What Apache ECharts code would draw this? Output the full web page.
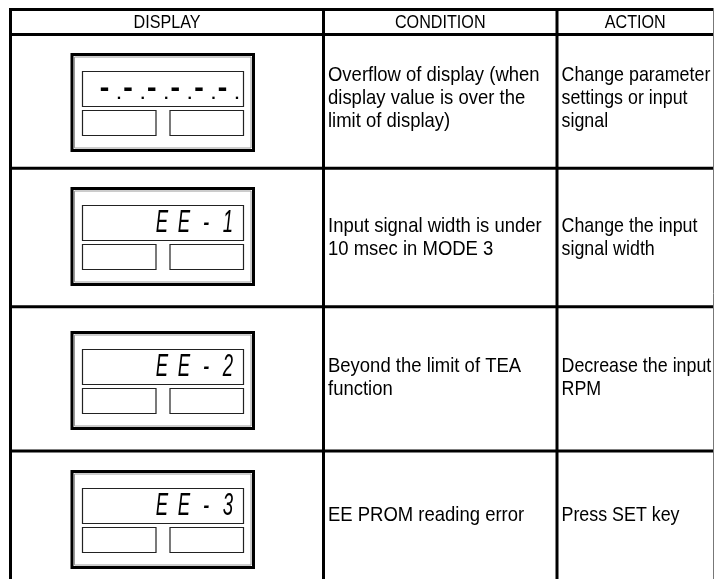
<!DOCTYPE html>
<html>
<head>
<meta charset="utf-8">
<script src="https://cdn.jsdelivr.net/npm/echarts@6/dist/echarts.min.js"></script>
<style>
  html, body { margin: 0; padding: 0; background: #ffffff; }
  #chart { width: 715px; height: 579px; }
</style>
</head>
<body>
<div id="chart"></div>
<script>
// ---- data ----
const headers = ['DISPLAY', 'CONDITION', 'ACTION'];
const displayCodes = ['-.-.-.-.-.-.', 'EE-1', 'EE-2', 'EE-3'];
const conditions = [
  'Overflow of display (when\ndisplay value is over the\nlimit of display)',
  'Input signal width is under\n10 msec in MODE 3',
  'Beyond the limit of TEA\nfunction',
  'EE PROM reading error'
];
const actions = [
  'Change parameter\nsettings or input\nsignal',
  'Change the input\nsignal width',
  'Decrease the input\nRPM',
  'Press SET key'
];

// ---- layout (pixels) ----
const L = {
  top: 9.5, headerBottom: 34.5, rowLines: [168.3, 306.7, 451], bottom: 579,
  left: 10.5, colLines: [323.5, 557], right: 713.5,
  lineX0: 9, lineX1: 713,
  boxTops: [53, 187, 331, 470],
  textCenters: [98.5, 238, 378, 515.5],
  condX: 328, actX: 561.5
};
const FONT = "'Liberation Sans', Arial, sans-serif";

function parseCells(code) {
  const cells = [];
  for (const ch of code) {
    if (ch === '.' && cells.length) cells[cells.length - 1].dot = true;
    else cells.push({ ch: ch, dot: false });
  }
  return cells;
}

function renderRow(params, api) {
  const i = api.value(0);
  const top = L.boxTops[i];
  const children = [];
  // outer device frame
  children.push({ type: 'rect', shape: { x: 72, y: top + 1.5, width: 181.5, height: 96 },
    style: { fill: '#fff', stroke: '#000', lineWidth: 3 } });
  children.push({ type: 'rect', shape: { x: 74.5, y: top + 4, width: 176.5, height: 91 },
    style: { fill: 'none', stroke: '#9a9a9a', lineWidth: 1 } });
  // display window
  children.push({ type: 'rect', shape: { x: 82.5, y: top + 18.5, width: 161, height: 35 },
    style: { fill: '#fff', stroke: '#222', lineWidth: 1.2 } });
  // two small windows
  children.push({ type: 'rect', shape: { x: 82.5, y: top + 57.5, width: 73.5, height: 25 },
    style: { fill: '#fff', stroke: '#222', lineWidth: 1.2 } });
  children.push({ type: 'rect', shape: { x: 170, y: top + 57.5, width: 73.5, height: 25 },
    style: { fill: '#fff', stroke: '#222', lineWidth: 1.2 } });
  // display code
  const code = displayCodes[i];
  const cells = parseCells(code);
  const n = cells.length;
  const hasDots = code.indexOf('.') >= 0;
  cells.forEach(function (c, k) {
    if (hasDots) {
      const cx = 222.5 - (n - 1 - k) * 23.6;
      children.push({ type: 'text', x: cx, y: top + 37,
        style: { text: c.ch, fontFamily: "'DejaVu Sans', sans-serif", fontWeight: 'bold', fontSize: 24,
          fill: '#000', align: 'center', verticalAlign: 'middle' } });
      if (c.dot) {
        children.push({ type: 'text', x: cx + 14.5, y: top + 49.5,
          style: { text: '.', fontFamily: "'DejaVu Sans', sans-serif", fontWeight: 'bold', fontSize: 13,
            fill: '#000', align: 'center', verticalAlign: 'bottom' } });
      }
    } else {
      const cx = 228 - (n - 1 - k) * 22;
      children.push({ type: 'text', x: cx, y: top + 36, scaleX: 0.58, originX: 0,
        style: { text: c.ch, fontFamily: FONT, fontStyle: 'italic', fontSize: 32,
          fill: '#000', align: 'center', verticalAlign: 'middle' } });
    }
  });
  // condition and action text
  children.push({ type: 'text', x: L.condX, y: L.textCenters[i], scaleX: 0.88,
    style: { text: conditions[i], fontFamily: FONT, fontSize: 21, lineHeight: 23,
      fill: '#000', align: 'left', verticalAlign: 'middle' } });
  children.push({ type: 'text', x: L.actX, y: L.textCenters[i], scaleX: 0.85,
    style: { text: actions[i], fontFamily: FONT, fontSize: 21, lineHeight: 23,
      fill: '#000', align: 'left', verticalAlign: 'middle' } });
  return { type: 'group', children: children };
}

// table frame
const graphics = [];
function hLine(y) {
  graphics.push({ type: 'line', shape: { x1: L.lineX0, y1: y, x2: L.lineX1, y2: y },
    style: { stroke: '#000', lineWidth: 3 }, z: 10 });
}
function vLine(x, w, color) {
  graphics.push({ type: 'line', shape: { x1: x, y1: L.top - 1.5, x2: x, y2: L.bottom },
    style: { stroke: color, lineWidth: w }, z: 10 });
}
hLine(L.top); hLine(L.headerBottom);
L.rowLines.forEach(hLine);
vLine(L.left, 3, '#000');
L.colLines.forEach(function (x) { vLine(x, 3, '#000'); });
vLine(L.right, 1, '#777');
const colEdges = [L.left, L.colLines[0], L.colLines[1], L.right];
headers.forEach(function (h, j) {
  graphics.push({ type: 'text', x: (colEdges[j] + colEdges[j + 1]) / 2, y: 22.5, scaleX: 0.85,
    style: { text: h, fontFamily: FONT, fontSize: 19, fill: '#000', align: 'center', verticalAlign: 'middle' }, z: 10 });
});

const chart = echarts.init(document.getElementById('chart'), null, { renderer: 'canvas' });
chart.setOption({
  backgroundColor: '#ffffff',
  animation: false,
  graphic: graphics,
  series: [{
    type: 'custom',
    coordinateSystem: 'none',
    data: displayCodes.map(function (_, i) { return [i]; }),
    renderItem: renderRow,
    silent: true
  }]
});
</script>
</body>
</html>
